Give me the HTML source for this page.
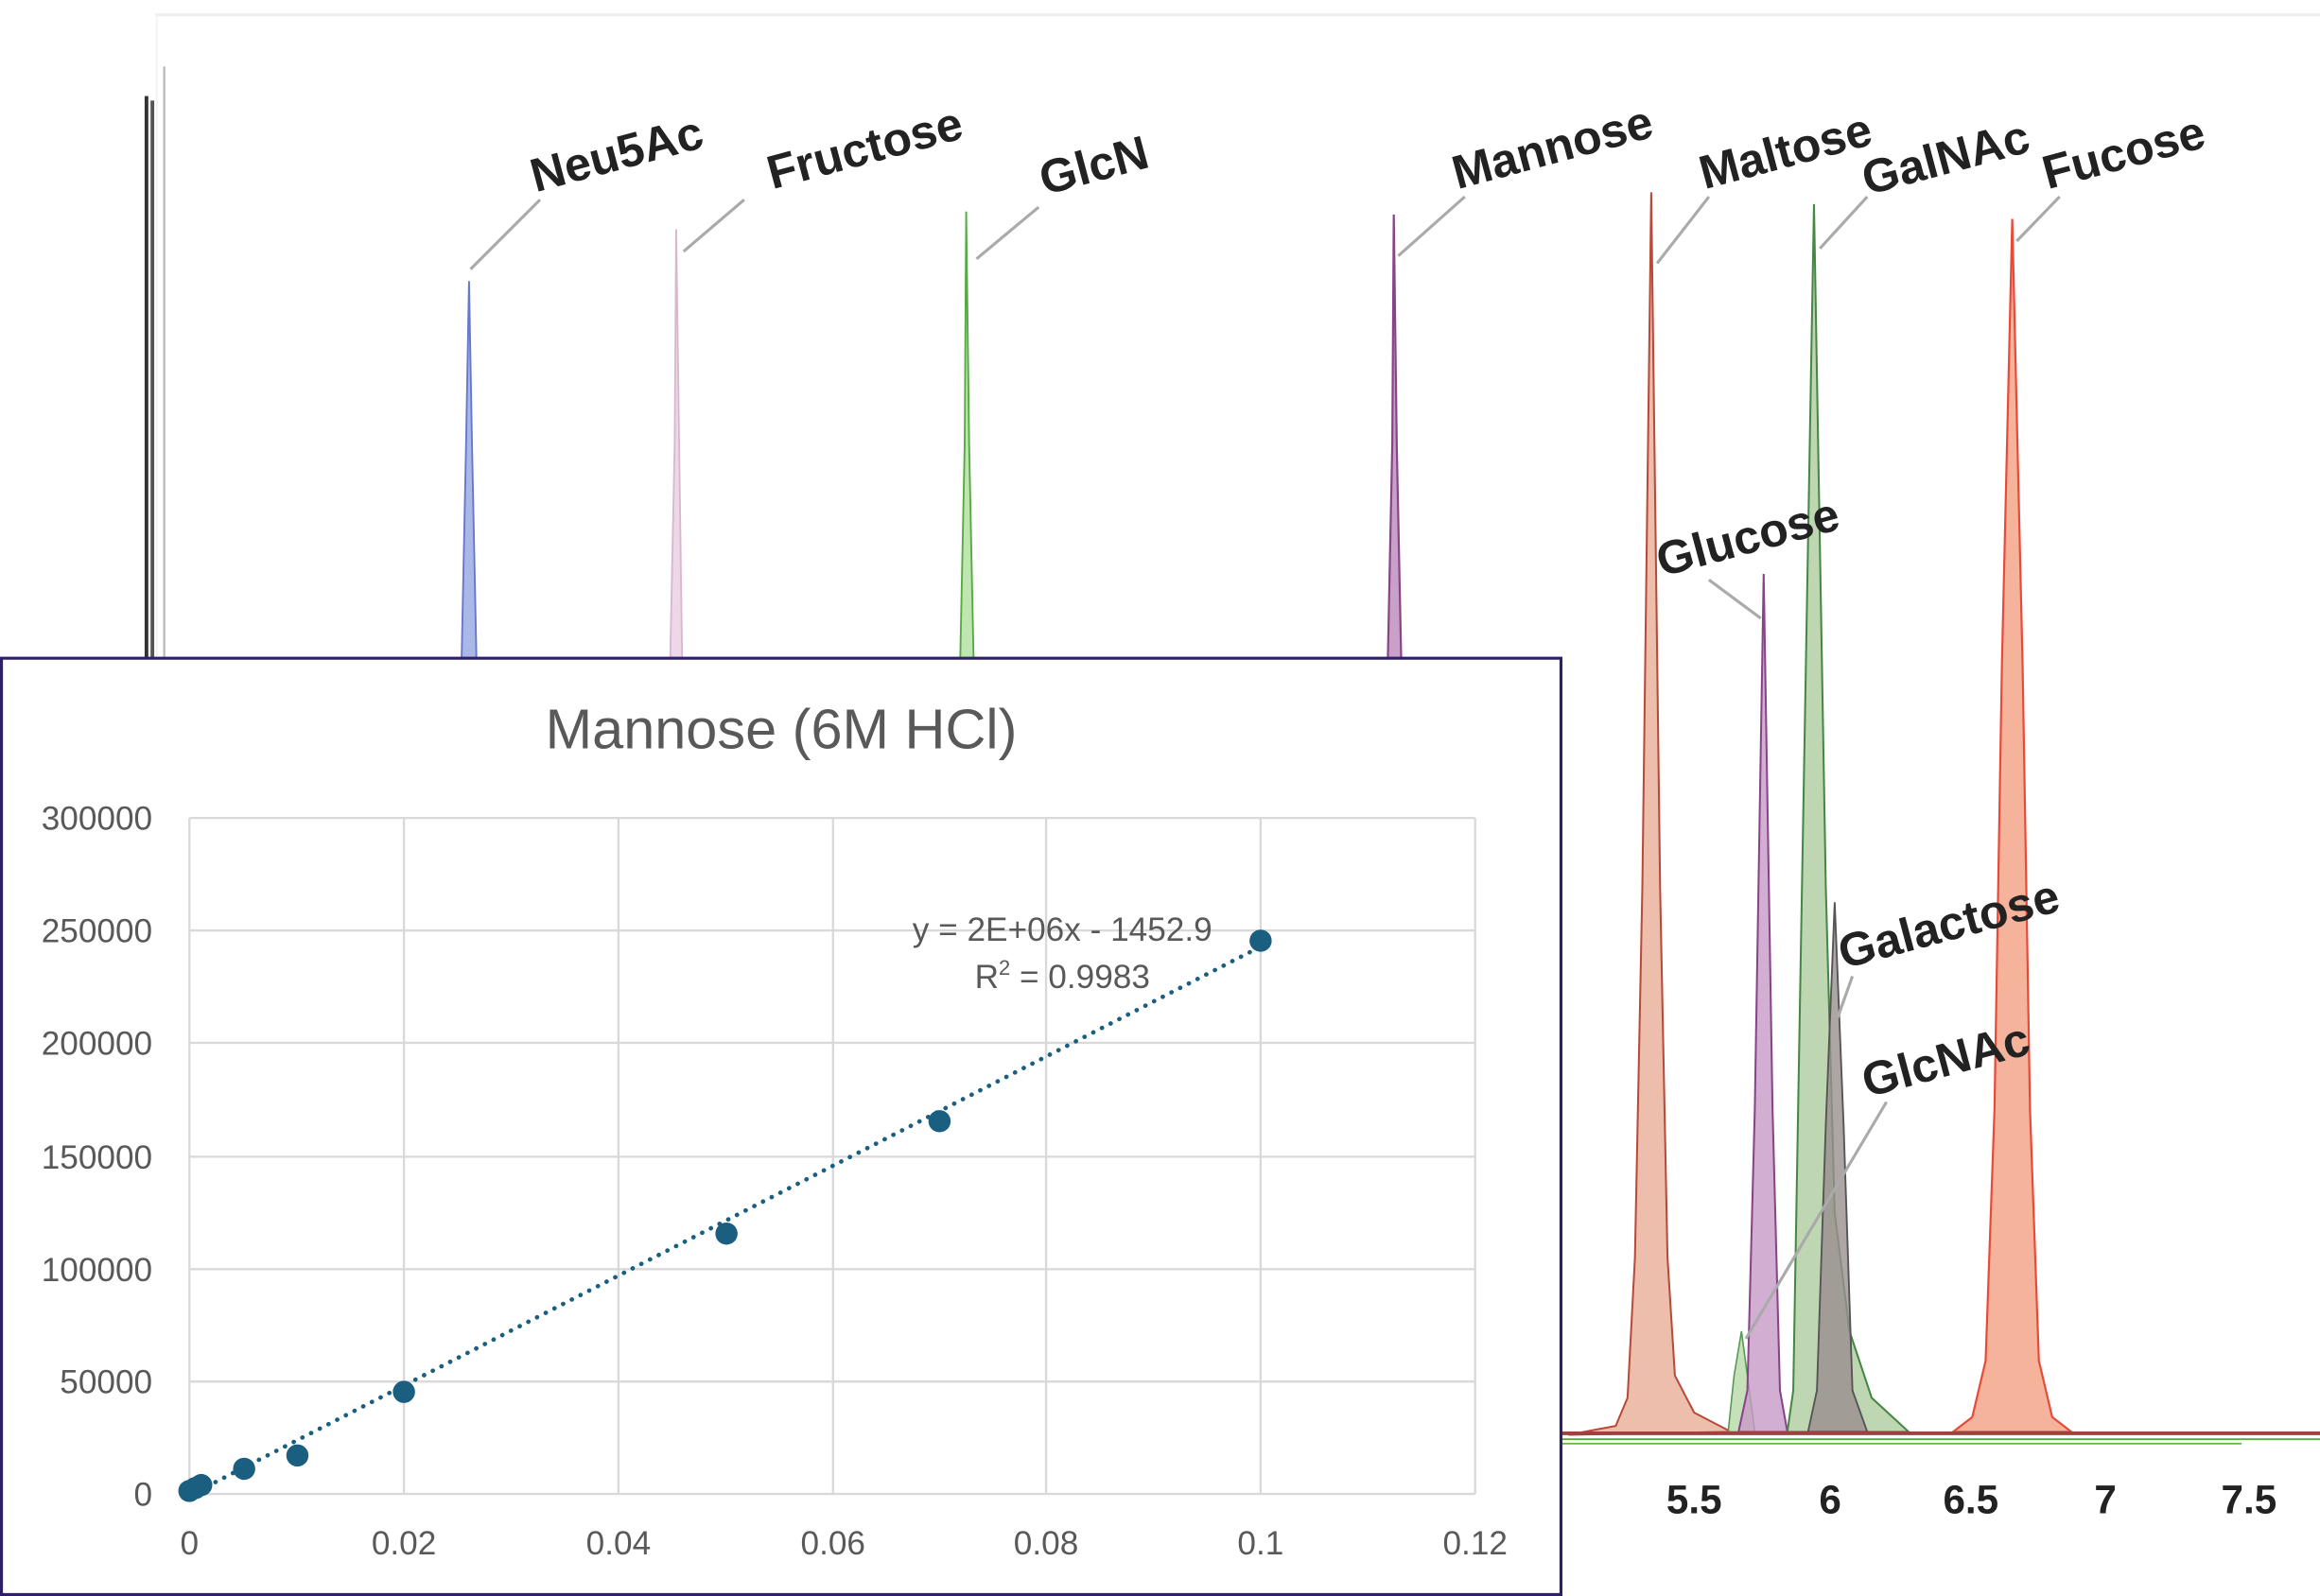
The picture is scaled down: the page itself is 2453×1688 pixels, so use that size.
<!DOCTYPE html>
<html><head><meta charset="utf-8"><style>html,body{margin:0;padding:0;background:#fff}svg{display:block}</style></head>
<body>
<svg width="2453" height="1688" viewBox="0 0 1568 1079" preserveAspectRatio="none" xmlns="http://www.w3.org/2000/svg" font-family="Liberation Sans, sans-serif">
<rect width="1568" height="1079" fill="#fff"/>
<line x1="105" y1="10" x2="1568" y2="10" stroke="#eee" stroke-width="2"/>
<line x1="106" y1="10" x2="106" y2="445" stroke="#f2f2f2" stroke-width="1"/>
<line x1="99" y1="65" x2="99" y2="445" stroke="#333" stroke-width="2.5"/>
<line x1="103" y1="68" x2="103" y2="445" stroke="#555" stroke-width="2.5"/>
<line x1="111" y1="45" x2="111" y2="445" stroke="#bbb" stroke-width="1.5"/>
<path d="M312,445 L315,300 L317,190 L319,300 L322,445 Z" fill="#aab8e8" stroke="#6677cc" stroke-width="1.2"/>
<path d="M453,445 L456,300 L457,155 L459,300 L461,445 Z" fill="#eed8e8" stroke="#d8b8d0" stroke-width="1.2"/>
<path d="M649,445 L652,300 L653,143 L655,300 L658,445 Z" fill="#bfe6b0" stroke="#55aa44" stroke-width="1.2"/>
<path d="M938,445 L941,300 L942,145 L944,300 L947,445 Z" fill="#c8a0c8" stroke="#884488" stroke-width="1.4"/>
<path d="M1060,970 L1092,964 L1100,945 L1105,850 L1110,600 L1116,130 L1122,600 L1127,850 L1132,930 L1145,955 L1170,968 Z" fill="#e6a88f" fill-opacity="0.75" stroke="#b84a3a" stroke-width="1.3"/>
<path d="M1168,968 L1172,930 L1177,900 L1181,930 L1186,968 Z" fill="#b8d8a8" fill-opacity="0.8" stroke="#559955" stroke-width="1"/>
<path d="M1175,968 L1181,940 L1186,750 L1192,388 L1198,750 L1203,940 L1208,968 Z" fill="#c89ac8" fill-opacity="0.8" stroke="#884488" stroke-width="1.3"/>
<path d="M1208,968 L1212,940 L1217,650 L1226,138 L1234,600 L1240,820 L1250,900 L1265,945 L1290,968 Z" fill="#a8c898" fill-opacity="0.75" stroke="#448844" stroke-width="1.3"/>
<path d="M1222,968 L1228,940 L1234,760 L1240,610 L1246,760 L1252,940 L1262,968 Z" fill="#9a8e8e" fill-opacity="0.8" stroke="#555" stroke-width="1.2"/>
<path d="M1320,968 L1333,958 L1342,920 L1348,750 L1353,450 L1360,148 L1367,450 L1372,750 L1378,920 L1387,958 L1400,968 Z" fill="#f4a68a" fill-opacity="0.85" stroke="#e84a3a" stroke-width="1.4"/>
<line x1="1056" y1="969" x2="1568" y2="969" stroke="#a04040" stroke-width="2.5"/>
<line x1="1056" y1="973" x2="1568" y2="973" stroke="#55aa44" stroke-width="1.2"/>
<line x1="1056" y1="976" x2="1515" y2="976" stroke="#66bb44" stroke-width="1.2"/>
<g stroke="#aaa" stroke-width="2" fill="none">
<line x1="318" y1="182" x2="365" y2="135"/>
<line x1="462" y1="170" x2="503" y2="135"/>
<line x1="660" y1="175" x2="702" y2="140"/>
<line x1="945" y1="173" x2="990" y2="133"/>
<line x1="1120" y1="178" x2="1155" y2="133"/>
<line x1="1230" y1="168" x2="1262" y2="133"/>
<line x1="1363" y1="163" x2="1392" y2="133"/>
<line x1="1155" y1="392" x2="1190" y2="418"/>
<line x1="1242" y1="688" x2="1252" y2="660"/>
<line x1="1180" y1="905" x2="1275" y2="745"/>
</g>
<g font-weight="bold" font-size="32" fill="#222">
<text transform="translate(362,130) rotate(-15)">Neu5Ac</text>
<text transform="translate(522,128) rotate(-15)">Fructose</text>
<text transform="translate(706,132) rotate(-15)">GlcN</text>
<text transform="translate(985,128) rotate(-15)">Mannose</text>
<text transform="translate(1152,128) rotate(-15)">Maltose</text>
<text transform="translate(1262,132) rotate(-15)">GalNAc</text>
<text transform="translate(1384,128) rotate(-15)">Fucose</text>
<text transform="translate(1123,390) rotate(-15)">Glucose</text>
<text transform="translate(1246,655) rotate(-15)">Galactose</text>
<text transform="translate(1262,742) rotate(-15)">GlcNAc</text>
</g>
<g font-weight="bold" font-size="27" fill="#222" text-anchor="middle">
<text x="1145" y="1023">5.5</text><text x="1237" y="1023">6</text><text x="1332" y="1023">6.5</text><text x="1423" y="1023">7</text><text x="1520" y="1023">7.5</text>
</g>
<rect x="1" y="445" width="1054" height="633" fill="#fff" stroke="#2e1f66" stroke-width="2"/>
<text x="528" y="506" text-anchor="middle" font-size="38" fill="#595959">Mannose (6M HCl)</text>
<g stroke="#d9d9d9" stroke-width="1.5">
<line x1="128" y1="553" x2="997" y2="553"/><line x1="128" y1="629" x2="997" y2="629"/><line x1="128" y1="705" x2="997" y2="705"/><line x1="128" y1="782" x2="997" y2="782"/><line x1="128" y1="858" x2="997" y2="858"/><line x1="128" y1="934" x2="997" y2="934"/><line x1="128" y1="1010" x2="997" y2="1010"/>
<line x1="128" y1="553" x2="128" y2="1010"/><line x1="273" y1="553" x2="273" y2="1010"/><line x1="418" y1="553" x2="418" y2="1010"/><line x1="563" y1="553" x2="563" y2="1010"/><line x1="707" y1="553" x2="707" y2="1010"/><line x1="852" y1="553" x2="852" y2="1010"/><line x1="997" y1="553" x2="997" y2="1010"/>
</g>
<g font-size="22.5" fill="#595959" text-anchor="end">
<text x="103" y="561">300000</text><text x="103" y="637">250000</text><text x="103" y="713">200000</text><text x="103" y="790">150000</text><text x="103" y="866">100000</text><text x="103" y="942">50000</text><text x="103" y="1018">0</text>
</g>
<g font-size="22.5" fill="#595959" text-anchor="middle">
<text x="128" y="1051">0</text><text x="273" y="1051">0.02</text><text x="418" y="1051">0.04</text><text x="563" y="1051">0.06</text><text x="707" y="1051">0.08</text><text x="852" y="1051">0.1</text><text x="997" y="1051">0.12</text>
</g>
<line x1="128" y1="1011" x2="852" y2="640" stroke="#1a5e80" stroke-width="3" stroke-dasharray="0.1 6.5" stroke-linecap="round"/>
<g fill="#1a5e80">
<circle cx="128" cy="1008" r="7.5"/><circle cx="132" cy="1006" r="7.5"/><circle cx="136" cy="1004" r="7.5"/><circle cx="165" cy="993" r="7.5"/><circle cx="201" cy="984" r="7.5"/><circle cx="273" cy="941" r="7.5"/><circle cx="491" cy="834" r="7.5"/><circle cx="635" cy="758" r="7.5"/><circle cx="852" cy="636" r="7.5"/>
</g>
<g font-size="22.5" fill="#595959" text-anchor="middle">
<text x="718" y="636">y = 2E+06x - 1452.9</text>
<text x="718" y="668">R<tspan font-size="14" dy="-9">2</tspan><tspan dy="9"> = 0.9983</tspan></text>
</g>
</svg>
</body></html>
